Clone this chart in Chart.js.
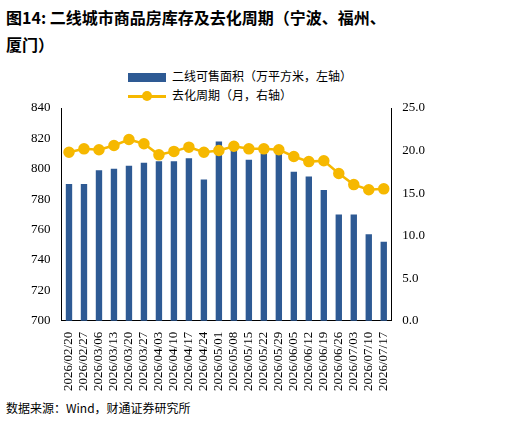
<!DOCTYPE html>
<html><head><meta charset="utf-8">
<script src="https://cdn.jsdelivr.net/npm/chart.js@4"></script>
<style>
body{margin:0;width:510px;height:423px;background:#fff;font-family:"Noto Sans CJK SC";position:relative;overflow:hidden}
#t{position:absolute;left:6px;top:4px;font-size:16px;font-weight:bold;line-height:27px;color:#000;width:500px;font-family:"Noto Sans CJK SC"}
#f{position:absolute;left:6px;top:399px;font-size:12px;color:#000}
#c{position:absolute;left:0;top:58px}
#lg{position:absolute;left:128px;top:66px;font-size:12px;color:#000;line-height:19px}
.sw{display:inline-block;width:38px;height:9px;background:#2e5a94;vertical-align:middle;margin-right:6px}
.ln{display:inline-block;width:38px;height:3px;background:#f6b800;vertical-align:middle;margin-right:6px;position:relative}
.ln:after{content:"";position:absolute;left:14px;top:-4px;width:10px;height:10px;border-radius:50%;background:#f6b800}
</style></head><body>
<div id="t">图14: 二线城市商品房库存及去化周期（宁波、福州、<br>厦门）</div>
<div id="lg"><div><span class="sw"></span>二线可售面积（万平方米，左轴）</div><div><span class="ln"></span>去化周期（月，右轴）</div></div>
<div id="c"><canvas id="cv" width="510" height="336"></canvas></div>
<div id="f">数据来源：Wind，财通证券研究所</div>
<script>
const categories=["2026/02/20","2026/02/27","2026/03/06","2026/03/13","2026/03/20","2026/03/27","2026/04/03","2026/04/10","2026/04/17","2026/04/24","2026/05/01","2026/05/08","2026/05/15","2026/05/22","2026/05/29","2026/06/05","2026/06/12","2026/06/19","2026/06/26","2026/07/03","2026/07/10","2026/07/17"];
const inventory=[790,790,799,800,802,804,805,805,807,793,818,813,806,810,811,798,795,786,770,770,757,752];
const cycle=[19.8,20.2,20.1,20.6,21.3,20.8,19.5,19.9,20.4,19.8,20.0,20.5,20.2,20.2,20.1,19.3,18.7,18.8,17.3,16.0,15.4,15.5];
const leftTicks=[700,720,740,760,780,800,820,840];
const rightTicks=[0,5,10,15,20,25];
const F={family:"'Liberation Serif', 'DejaVu Serif', serif",size:13};
new Chart(document.getElementById('cv'),{
data:{labels:categories,datasets:[
{type:'line',label:'去化周期（月，右轴）',data:cycle,yAxisID:'y1',borderColor:'#f6b800',backgroundColor:'#f6b800',borderWidth:2.5,pointRadius:4.5,pointBackgroundColor:'#f6b800',pointBorderColor:'#f6b800',order:0},
{type:'bar',label:'二线可售面积（万平方米，左轴）',data:inventory,yAxisID:'y',backgroundColor:'#2e5a94',categoryPercentage:0.85,barPercentage:0.5,order:1}
]},
options:{responsive:false,animation:false,
layout:{padding:{left:28,right:82,top:50,bottom:0}},
plugins:{legend:{display:false},tooltip:{enabled:false}},
scales:{
x:{grid:{display:false},border:{color:'#000'},ticks:{font:F,color:'#000',minRotation:90,maxRotation:90,autoSkip:false}},
y:{position:'left',min:700,max:840,afterBuildTicks:a=>{a.ticks=leftTicks.map(v=>({value:v}))},grid:{display:false},border:{color:'#000'},ticks:{font:F,color:'#000'}},
y1:{position:'right',min:0,max:25,afterBuildTicks:a=>{a.ticks=rightTicks.map(v=>({value:v}))},grid:{display:false},border:{color:'#000'},ticks:{font:F,color:'#000',callback:v=>v.toFixed(1)}}
}}});
</script></body></html>
